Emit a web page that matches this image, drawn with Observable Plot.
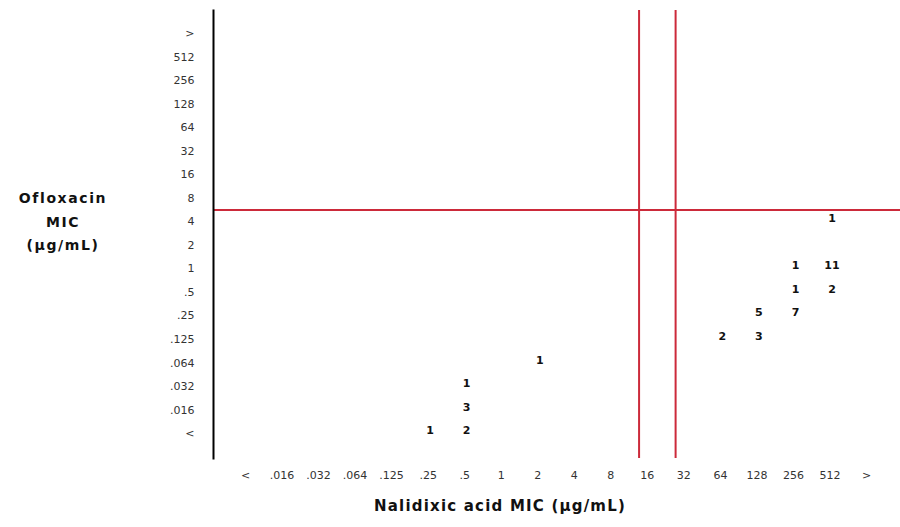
<!DOCTYPE html>
<html>
<head>
<meta charset="utf-8">
<script src="https://cdn.jsdelivr.net/npm/d3@7"></script>
<script src="https://cdn.jsdelivr.net/npm/@observablehq/plot@0.6"></script>
<style>
  html, body { margin: 0; padding: 0; background: #fff; }
  #wrap { position: relative; width: 900px; height: 527px; overflow: hidden; }
  #chart { position: absolute; left: 0; top: 0; }
  .ttl { position: absolute; font-family: "DejaVu Sans", Verdana, sans-serif; font-weight: bold; color: #111; white-space: nowrap; }
  #ytitle { left: 3px; top: 187px; width: 120px; text-align: center; font-size: 14px; line-height: 23.5px; letter-spacing: 1.6px; }
  #xtitle { left: 300px; top: 496px; width: 400px; text-align: center; font-size: 15px; line-height: 20px; letter-spacing: 1.2px; }
</style>
</head>
<body>
<div id="wrap">
  <div id="chart"></div>
  <div id="ytitle" class="ttl">Ofloxacin<br>MIC<br>(μg/mL)</div>
  <div id="xtitle" class="ttl">Nalidixic acid MIC (μg/mL)</div>
</div>
<script>
// MIC categories (tick labels)
const xCats = ["<", ".016", ".032", ".064", ".125", ".25", ".5", "1", "2", "4", "8", "16", "32", "64", "128", "256", "512", ">"];
const yCats = ["<", ".016", ".032", ".064", ".125", ".25", ".5", "1", "2", "4", "8", "16", "32", "64", "128", "256", "512", ">"];

// Isolate counts: nalidixic acid MIC, ofloxacin MIC, number of isolates
const nalMIC = [".25", ".5", ".5", ".5", "2", "64", "128", "128", "256", "256", "256", "512", "512", "512"];
const oflMIC = ["<", "<", ".016", ".032", ".064", ".125", ".125", ".25", ".25", ".5", "1", ".5", "1", "4"];
const counts = [1, 2, 3, 1, 1, 2, 3, 5, 7, 1, 1, 2, 11, 1];

// Breakpoints (drawn between these adjacent categories)
const nalBreaks = [["8", "16"], ["16", "32"]];
const oflBreaks = [["4", "8"]];

const table = counts.map((n, i) => ({ nal: nalMIC[i], ofl: oflMIC[i], n }));
const xi = c => xCats.indexOf(c);
const yi = c => yCats.indexOf(c);
const red = "#cc2a3a";

const chart = Plot.plot({
  width: 900,
  height: 527,
  marginLeft: 213,
  marginRight: 0,
  marginTop: 10,
  marginBottom: 69,
  style: { fontFamily: "DejaVu Sans, Verdana, sans-serif", background: "#fff" },
  x: { type: "linear", domain: [-0.876, 17.93] },
  y: { type: "linear", domain: [-1.06, 17.98] },
  marks: [
    Plot.axisX(xCats.map((d, i) => i), {
      tickFormat: i => xCats[i], tickSize: 0, tickPadding: 13,
      fontSize: 11, fill: "#333", label: null
    }),
    Plot.axisY(yCats.map((d, i) => i), {
      tickFormat: i => yCats[i], tickSize: 0, tickPadding: 19,
      fontSize: 11, fill: "#333", label: null
    }),
    Plot.ruleX(nalBreaks, { x: d => (xi(d[0]) + xi(d[1])) / 2, stroke: red, strokeWidth: 2, dx: 10 }),
    Plot.ruleY(oflBreaks, { y: d => (yi(d[0]) + yi(d[1])) / 2, stroke: red, strokeWidth: 2 }),
    Plot.frame({ anchor: "left", stroke: "#000", strokeWidth: 2 }),
    Plot.text(table, {
      x: d => xi(d.nal), y: d => yi(d.ofl), text: d => String(d.n),
      fontSize: 11, fontWeight: "bold", fill: "#111", dy: -3, dx: 2
    })
  ]
});
document.getElementById("chart").appendChild(chart);
</script>
</body>
</html>
